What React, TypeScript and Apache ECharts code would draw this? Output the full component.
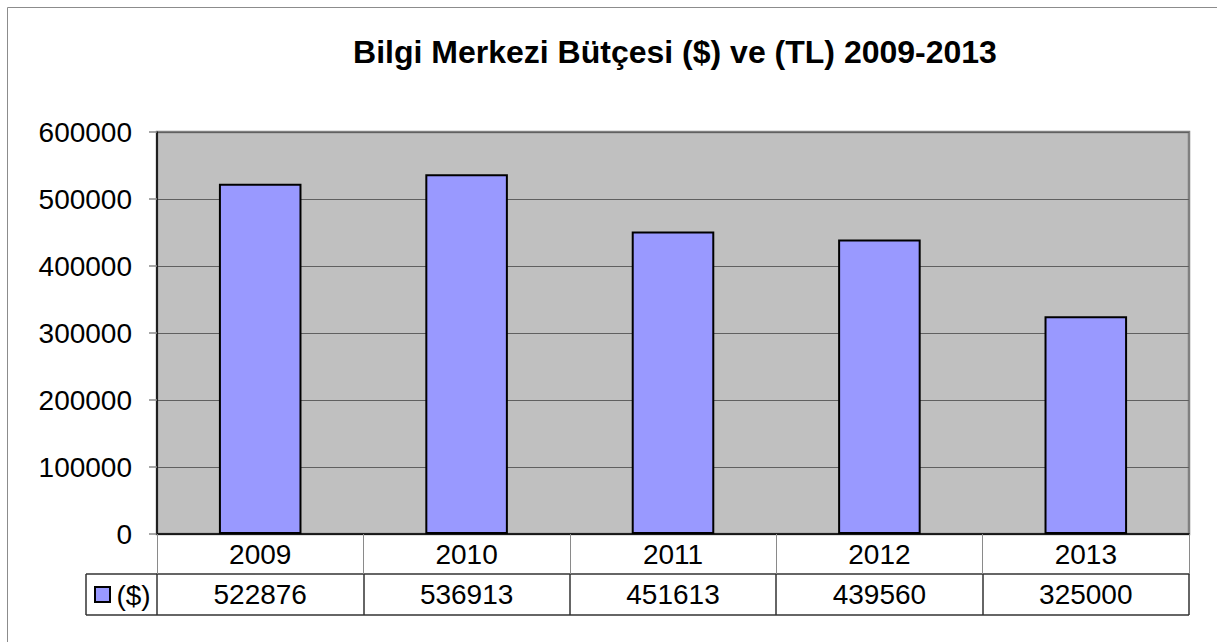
import React, { useEffect, useRef } from "react";
import * as echarts from "echarts";

const years = ["2009", "2010", "2011", "2012", "2013"];
const budgetUSD = [522876, 536913, 451613, 439560, 325000];
const seriesName = "($)";
const titleText = "Bilgi Merkezi Bütçesi ($) ve (TL) 2009-2013";
const yMin = 0;
const yMax = 600000;
const yInterval = 100000;

const FONT = "'Liberation Sans', Arial, sans-serif";
const BAR_COLOR = "#9999FF";

export default function App() {
  const ref = useRef<HTMLDivElement>(null);

  useEffect(() => {
    if (!ref.current) return;
    const chart = echarts.init(ref.current, null, { renderer: "svg" });
    const option: any = {
      animation: false,
      backgroundColor: "#ffffff",
      textStyle: { fontFamily: FONT },
      grid: {
        left: 157,
        right: 28,
        top: 132,
        bottom: 108,
        containLabel: false,
        show: true,
        backgroundColor: "#C0C0C0",
        borderColor: "#808080",
        borderWidth: 2.5,
      },
      xAxis: [
        {
          type: "category",
          data: years,
          position: "bottom",
          boundaryGap: true,
          axisLine: { show: true, lineStyle: { color: "#000000", width: 1.5 } },
          axisTick: {
            show: true,
            interval: 0,
            length: 40,
            lineStyle: { color: "#8a8a8a", width: 1 },
          },
          axisLabel: {
            show: true,
            interval: 0,
            margin: 20,
            verticalAlign: "middle",
            fontSize: 28,
            color: "#000000",
            fontFamily: FONT,
          },
          splitLine: { show: false },
          z: 5,
        },
        {
          type: "category",
          data: budgetUSD.map((v) => String(v)),
          position: "bottom",
          offset: 40,
          boundaryGap: true,
          axisLine: { show: true, lineStyle: { color: "#333333", width: 1.5 } },
          axisTick: {
            show: true,
            interval: 0,
            length: 41,
            lineStyle: { color: "#333333", width: 1.5 },
          },
          axisLabel: {
            show: true,
            interval: 0,
            margin: 20,
            verticalAlign: "middle",
            fontSize: 28,
            color: "#000000",
            fontFamily: FONT,
          },
          splitLine: { show: false },
        },
      ],
      yAxis: {
        type: "value",
        min: yMin,
        max: yMax,
        interval: yInterval,
        axisLine: { show: true, lineStyle: { color: "#000000", width: 1.5 } },
        axisTick: { show: true, length: 8, lineStyle: { color: "#8a8a8a", width: 1.5 } },
        axisLabel: {
          margin: 25,
          fontSize: 28,
          color: "#000000",
          fontFamily: FONT,
          formatter: (v: number) => String(v),
        },
        splitLine: { show: true, lineStyle: { color: "#606060", width: 1 } },
      },
      series: [
        {
          name: seriesName,
          type: "bar",
          xAxisIndex: 0,
          data: budgetUSD,
          barWidth: "40%",
          itemStyle: { color: BAR_COLOR, borderColor: "#000000", borderWidth: 2 },
          z: 3,
        },
      ],
      graphic: [
        {
          type: "rect",
          shape: { x: 7.5, y: 7.5, width: 1300, height: 700 },
          style: { fill: "none", stroke: "#8c8c8c", lineWidth: 1 },
          silent: true,
          z: -10,
        },
        {
          type: "text",
          x: 675,
          y: 52,
          style: {
            text: titleText,
            fontSize: 32,
            fontWeight: "bold",
            fontFamily: FONT,
            fill: "#000000",
            align: "center",
            verticalAlign: "middle",
          },
        },
        {
          type: "line",
          shape: { x1: 86, y1: 574, x2: 157, y2: 574 },
          style: { stroke: "#333333", lineWidth: 1.5 },
        },
        {
          type: "line",
          shape: { x1: 86, y1: 615, x2: 1189, y2: 615 },
          style: { stroke: "#333333", lineWidth: 1.5 },
        },
        {
          type: "line",
          shape: { x1: 86, y1: 574, x2: 86, y2: 615 },
          style: { stroke: "#333333", lineWidth: 1.5 },
        },
        {
          type: "rect",
          shape: { x: 95, y: 587, width: 15, height: 15 },
          style: { fill: BAR_COLOR, stroke: "#000000", lineWidth: 2 },
        },
        {
          type: "text",
          x: 133.5,
          y: 595,
          style: {
            text: seriesName,
            fontSize: 28,
            fontFamily: FONT,
            fill: "#000000",
            align: "center",
            verticalAlign: "middle",
          },
        },
      ],
    };
    chart.setOption(option);
    return () => chart.dispose();
  }, []);

  return (
    <div
      ref={ref}
      style={{ position: "fixed", left: 0, top: 0, width: 1217, height: 642, background: "#fff" }}
    />
  );
}
